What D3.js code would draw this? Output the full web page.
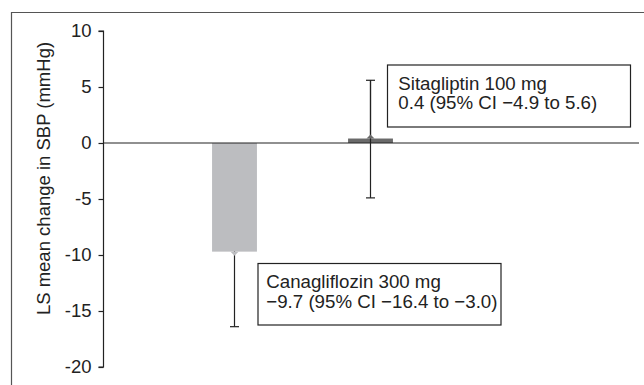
<!DOCTYPE html>
<html><head><meta charset="utf-8">
<script src="https://cdn.jsdelivr.net/npm/d3@7"></script>
<style>body{margin:0;background:#fff}svg{display:block;font-family:"Liberation Sans",Arial,sans-serif}</style>
</head><body>
<script>
const categories = ["Canagliflozin 300 mg", "Sitagliptin 100 mg"];
const means = [-9.7, 0.4];
const ciLow = [-16.4, -4.9];
const ciHigh = [-3.0, 5.6];
const labelLine2 = ["\u22129.7 (95% CI \u221216.4 to \u22123.0)", "0.4 (95% CI \u22124.9 to 5.6)"];
const yTicks = [10, 5, 0, -5, -10, -15, -20];
const barColors = ["#bcbdc0", "#6a6a6a"];

const W = 644, H = 385;
const svg = d3.select("body").append("svg").attr("width", W).attr("height", H);

// frame
svg.append("path").attr("d", "M11.5,385V12.5H644").attr("fill","none").attr("stroke","#555").attr("stroke-width",1.2);

const y = d3.scaleLinear().domain([-20, 10]).range([367, 31]);
const x = d3.scaleBand().domain(categories).range([166.5, 438.5]).padding(0);
const axisX = 103.5;

// y axis
const yAxis = d3.axisLeft(y).tickValues(yTicks).tickSize(5).tickPadding(7)
  .tickFormat(d => d3.format("d")(d).replace("\u2212","-"));
const gy = svg.append("g").attr("transform", `translate(${axisX},0)`).call(yAxis);
gy.select(".domain").attr("stroke","#222").attr("stroke-width",1.2).attr("d", `M-5,${y(10)}H0V${y(-20)}H-5`);
gy.selectAll(".tick line").attr("stroke","#222").attr("stroke-width",1.2);
gy.selectAll(".tick text").attr("font-size", 18.5).attr("fill","#222").attr("font-family",'"Liberation Sans",Arial,sans-serif');

// y title
svg.append("text").attr("transform", `translate(50,${(42+315)/2}) rotate(-90)`)
  .attr("text-anchor","middle").attr("font-size",18.5).attr("fill","#222")
  .text("LS mean change in SBP (mmHg)");

const bw = x.bandwidth() * 0.33;
const cx = c => x(c) + x.bandwidth()/2;

// error bars (drawn first, bars cover the inner part)
const capW = 9;
categories.forEach((c,i) => {
  const g = svg.append("g").attr("stroke","#222").attr("stroke-width",1.2);
  g.append("line").attr("x1",cx(c)).attr("x2",cx(c)).attr("y1",y(ciLow[i])).attr("y2",y(ciHigh[i]));
  g.append("line").attr("x1",cx(c)-capW/2).attr("x2",cx(c)+capW/2).attr("y1",y(ciLow[i])).attr("y2",y(ciLow[i]));
  g.append("line").attr("x1",cx(c)-capW/2).attr("x2",cx(c)+capW/2).attr("y1",y(ciHigh[i])).attr("y2",y(ciHigh[i]));
});

// bars
svg.selectAll("rect.bar").data(categories).join("rect").attr("class","bar")
  .attr("x", c => cx(c) - bw/2)
  .attr("y", (c,i) => y(Math.max(0, means[i])))
  .attr("width", bw)
  .attr("height", (c,i) => Math.abs(y(means[i]) - y(0)))
  .attr("fill", (c,i) => barColors[i]);

categories.forEach((c,i) => {
  if (means[i] > 0) {
    svg.append("line").attr("x1",cx(c)).attr("x2",cx(c)).attr("y1",y(0)).attr("y2",y(ciHigh[i]))
      .attr("stroke","#222").attr("stroke-width",1.2);
  }
  const my = y(means[i]);
  const dir = means[i] < 0 ? 1 : -1;
  svg.append("path")
    .attr("d", `M${cx(c)-4},${my}L${cx(c)+4},${my}L${cx(c)},${my+dir*4}Z`)
    .attr("fill", barColors[i]);
});

// zero line
svg.append("line").attr("x1", axisX).attr("x2", 639).attr("y1", y(0)).attr("y2", y(0))
  .attr("stroke","#222").attr("stroke-width",1.2);

// annotation boxes
const boxes = [
  {i:0, x:258, y:263.5, w:243, h:61.5, pad:8.3},
  {i:1, x:387.5, y:65, w:243, h:62, pad:10.8}
];
boxes.forEach(b => {
  svg.append("rect").attr("x",b.x).attr("y",b.y).attr("width",b.w).attr("height",b.h)
    .attr("fill","#fff").attr("stroke","#222").attr("stroke-width",1.2);
  const t = svg.append("text").attr("font-size",18.7).attr("fill","#222");
  t.append("tspan").attr("x", b.x+b.pad).attr("y", b.y+24.5).text(categories[b.i]);
  t.append("tspan").attr("x", b.x+b.pad).attr("y", b.y+44).text(labelLine2[b.i]);
});
</script>
</body></html>
